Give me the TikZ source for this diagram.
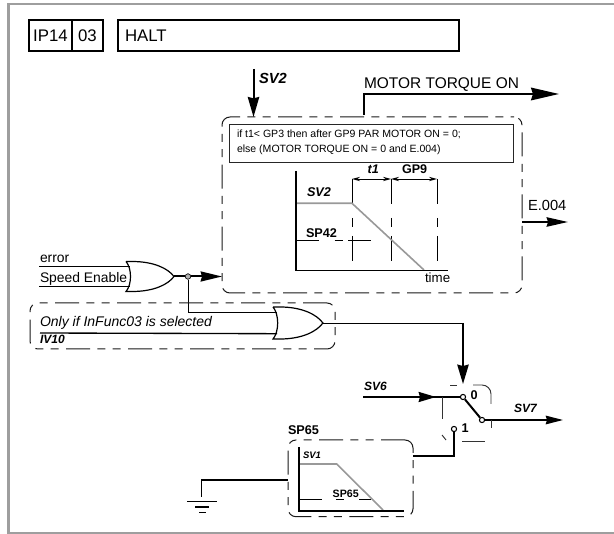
\documentclass[tikz,border=0pt]{standalone}
\usepackage{fontspec}
\setmainfont{Liberation Sans}
\usetikzlibrary{positioning, arrows.meta, calc}

\def\px{.75pt}
\tikzset{
    titlebox/.style={rectangle, draw, line width=1.2pt, inner sep=0pt, outer sep=0pt, minimum height=31*\px, font=\fontsize{12.6}{14}\selectfont},
    dashbox/.style={rectangle, draw=black!90, line width=.75pt, rounded corners=6pt, inner sep=0pt, outer sep=0pt, dash pattern=on 18pt off 5.5pt on 6pt off 5.5pt on 6pt off 5.5pt},
    lbl/.style={anchor=base west, inner sep=0pt, outer sep=0pt},
    sv/.style={lbl, font=\fontsize{#1}{#1}\selectfont\bfseries\itshape},
    bv/.style={lbl, font=\fontsize{#1}{#1}\selectfont\bfseries},
    tx/.style={lbl, font=\fontsize{#1}{#1}\selectfont},
    wire/.style={line width=1pt},
    thinwire/.style={line width=.7pt},
    sig/.style={line width=1.5pt},
    axis/.style={line width=1.4pt},
    ramp/.style={draw=black!40, line width=1.2pt},
    guide/.style={line width=.7pt},
    frag/.style={draw=black!80, line width=.7pt},
    orgate/.pic={
        \draw[line width=.9pt] (0,-15) -- (6,-15) .. controls (28,-15) and (42,-8) .. (48,0)
            .. controls (42,8) and (28,15) .. (6,15) -- (0,15) .. controls (6,8) and (6,-8) .. (0,-15);
        \coordinate (-ina) at (4,-10);
        \coordinate (-inb) at (4,10);
        \coordinate (-out) at (48,0);
    },
    pin/.style={circle, draw, line width=.8pt, fill=white, inner sep=0pt, minimum size=5.2*\px},
}

\begin{document}
\begin{tikzpicture}[x=.75pt, y=-.75pt]
    \useasboundingbox (0,0) rectangle (614,534);
    % frame
    \draw[draw=black!38, line width=2.2pt] (614,4) -- (8.5,4) -- (8.5,533) -- (614,533);

    % title row
    \node[titlebox, minimum width=43*\px, anchor=north west] (ipbox) at (29,20) {IP14};
    \node[titlebox, minimum width=31*\px, right=0pt of ipbox] (numbox) {03};
    \node[titlebox, right=15*\px of numbox, text width=327*\px, inner xsep=7*\px] (haltbox) {HALT};

    % big block
    \node[dashbox, dash phase=27pt, minimum width=300*\px, minimum height=176*\px, anchor=north west] (haltblock) at (222,117) {};
    \node[rectangle, draw=black!85, line width=.6pt, anchor=north west, minimum width=284*\px, minimum height=38*\px, inner sep=0pt, outer sep=0pt] (condbox) at (229,124) {};
    \node[tx=7.9, anchor=north west, align=left, font=\fontsize{7.9}{11.25}\selectfont] (condtext) at (237,129.5) {if t1< GP3 then after GP9 PAR MOTOR ON = 0;\\else (MOTOR TORQUE ON = 0 and E.004)};

    % SV2 in, torque out
    \coordinate (svin) at (253.5,69);
    \coordinate (torquefoot) at (364,115);
    \coordinate (torquebend) at (364,94);
    \coordinate (torqueend) at (559,94);
    \coordinate (errend) at (568,222);
    \node[sv=11] (svlabel) at (259,84) {SV2};
    \node[tx=11.6] (torquelabel) at (364,89) {MOTOR TORQUE ON};
    \node[tx=11] (errlabel) at (528,210.7) {E.004};
    \draw[sig, -{Stealth[length=15pt, width=8.5pt, inset=1pt]}] (svin) -- (svin |- haltblock.north);
    \draw[sig, -{Stealth[length=21pt, width=9.5pt, inset=1.5pt]}] (torquefoot) -- (torquebend) -- (torqueend);
    \draw[sig, -{Stealth[length=16pt, width=7pt, inset=1pt]}] (haltblock.east |- errend) -- (errend);

    % ramp chart
    \coordinate (orig) at (296,270.5);
    \coordinate (top) at (296,171);
    \coordinate (right) at (448,270.5);
    \draw[guide, dash pattern=on 18.75pt off 10.5pt on 6.75pt off 6.75pt] (352,179) -- (352,264);
    \draw[guide, dash pattern=on 18.75pt off 10.5pt on 6.75pt off 6.75pt] (391,179) -- (391,264);
    \draw[guide, dash pattern=on 18.75pt off 10.5pt on 6.75pt off 6.75pt] (437,179) -- (437,264);
    \draw[guide, dash pattern=on 17pt off 12pt on 6pt off 4pt] (296,240) -- (382,240);
    \draw[ramp] (296,203.3) -- (352,203.3) -- (424,270);
    \draw[axis] (top) -- (orig) -- (right);
    \draw[guide, {Stealth[length=6pt, width=3.2pt]}-{Stealth[length=6pt, width=3.2pt]}] (352,179) -- (391,179);
    \draw[guide, {Stealth[length=6pt, width=3.2pt]}-{Stealth[length=6pt, width=3.2pt]}] (391,179) -- (437,179);
    \node[sv=9.4] (tlabel) at (367.7,174) {t1};
    \node[bv=9.4] (gplabel) at (402,174) {GP9};
    \node[sv=9.5] (chartsv) at (307,196.7) {SV2};
    \node[bv=9.5] (chartsp) at (306,238) {SP42};
    \node[tx=10] (timelabel) at (425,283) {time};

    % gates
    \pic (gatea) at (126,276.5) {orgate};
    \pic[xscale=1.04, yscale=1.07] (gateb) at (273,323) {orgate};
    \coordinate (errorin) at (39,266.5);
    \coordinate (speedin) at (39,286.5);
    \coordinate (ivin) at (40,333);
    \node[tx=10.4] (errorlabel) at (40,263) {error};
    \node[tx=10.4] (speedlabel) at (40,282.7) {Speed Enable};
    \draw[wire] (errorin) -- (gatea-ina);
    \draw[thinwire] (speedin) -- (gatea-inb);
    \draw[wire] (ivin) -- (gateb-inb);

    \node[circle, draw, line width=.5pt, fill=black!30, inner sep=0pt, minimum size=5.5*\px] (tap) at (188,276.5) {};
    \draw[sig] (gatea-out) -- (tap);
    \draw[sig, -{Stealth[length=16pt, width=7.5pt, inset=1pt]}] (tap) -- (haltblock.west |- tap);
    \draw[thinwire] (tap) |- (gateb-ina);

    \node[dashbox, minimum width=305*\px, minimum height=46*\px, anchor=north west] (funcblock) at (30,303) {};
    \node[sv=10.5, font=\fontsize{10.5}{10.5}\selectfont\itshape] (funclabel) at (40,326.7) {Only if InFunc03 is selected};
    \node[sv=9] (ivlabel) at (40,344) {IV10};

    % switch
    \node[pin] (pinzero) at (463,397) {};
    \node[pin] (pinout) at (482,420) {};
    \node[pin] (pinone) at (454,429) {};
    \coordinate (svsix) at (363,397);
    \coordinate (svseven) at (563,420);
    \node[bv=9.5] (zerolabel) at (470.7,400) {0};
    \node[bv=9.5] (onelabel) at (461.7,432.7) {1};
    \node[sv=9] (sixlabel) at (364,390.7) {SV6};
    \node[sv=9] (sevenlabel) at (514,413) {SV7};
    \coordinate (hop) at (463,323);
    \draw[thinwire] (gateb-out) -- (hop);
    \draw[sig, -{Stealth[length=14.5pt, width=8.5pt, inset=1pt]}] (hop) -- (463,384);
    \draw[sig] (svsix) -- (pinzero);
    \draw[-{Stealth[length=13pt, width=7.5pt, inset=1pt]}, sig] (svsix) -- (436,397);
    \draw[sig] (pinzero) -- (pinout);
    \draw[wire, -{Stealth[length=13pt, width=6.5pt, inset=1pt]}] (pinout) -- (svseven);
    % what is left of the dashed frame round the switch
    \draw[frag] (450,385) -- (457,385);
    \draw[frag] (473,385) -- (482,385) arc[start angle=-90, end angle=0, radius=9] -- (491,404);
    \draw[frag] (491,420) -- (491,428);
    \draw[frag] (442,397) -- (442,419);
    \draw[frag] (442,435) -- (446,440);
    \draw[frag] (462,441) -- (485,441);

    % SP65 block
    \node[dashbox, minimum width=125*\px, minimum height=76.7*\px, anchor=north west] (spblock) at (288,440) {};
    \node[bv=9.5] (sptitle) at (288,435) {SP65};
    \node[sv=7.1] (svone) at (303,459) {SV1};
    \node[bv=8] (spinner) at (332.7,497) {SP65};
    \draw[guide, dash pattern=on 17pt off 11pt on 6pt off 11pt on 9pt] (299,499) -- (371,499);
    \draw[ramp] (299,464) -- (336.7,464) -- (383,510);
    \draw[axis] (299,447) -- (299,510.7) -- (404,510.7);
    \draw[wire] (spblock.east |- 0,456) -| (pinone);

    % earth
    \coordinate (earth) at (201.7,496.7);
    \draw[wire] (spblock.west |- 0,480) -| (earth);
    \draw[line width=.6pt] (187,501) -- (217,501);
    \draw[line width=1.2pt] (195,507) -- (209,507);
    \draw[line width=1.3pt] (199,512.5) -- (206,512.5);
\end{tikzpicture}
\end{document}
